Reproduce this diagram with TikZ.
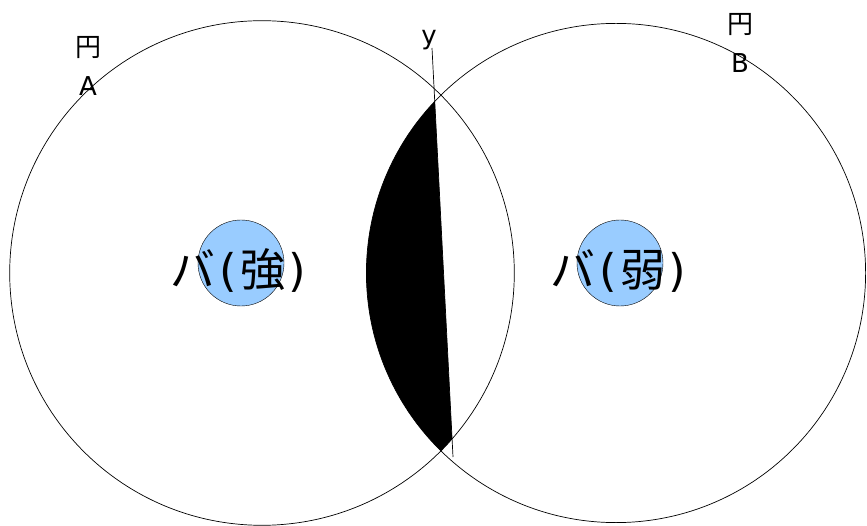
\documentclass[tikz,border=0pt]{standalone}
\usepackage{fontspec}
\setmainfont{DejaVu Sans}
\newfontfamily\jp{Noto Sans CJK JP}
\definecolor{lightblue}{HTML}{99CCFF}

\begin{document}
\begin{tikzpicture}[x=1pt, y=1pt,
    bigcircle/.style={draw, line width=.7pt},
    ball/.style={circle, draw, fill=lightblue, minimum size=86pt, inner sep=0pt},
    balltext/.style={font=\fontsize{45}{45}\selectfont},
    lbl/.style={font=\fontsize{26}{28}\selectfont, align=center, inner sep=0pt}
]
    \useasboundingbox (0,0) rectangle (867,525);
    \coordinate (cA) at (262,252);
    \coordinate (cB) at (616,252);
    \coordinate (ytop) at (432,477);
    \coordinate (ybot) at (453,68);
    % black part between circle B and line y
    \begin{scope}
        \clip (cA) circle (252.3);
        \clip (cB) circle (249.6);
        \fill (ytop) -- (ybot) -- (300,68) -- (300,477) -- cycle;
    \end{scope}
    \draw[bigcircle] (cA) circle (252.3);
    \draw[bigcircle] (cB) circle (249.6);
    \draw[line width=.7pt] (ytop) -- (ybot);
    \node[lbl] (ylabel) at (429,485) {y};
    \node[ball] (ballA) at (241,262) {};
    \node[ball] (ballB) at (620,262) {};
    \node[balltext] (strong) at (238,254) {{\jp バ}\kern4pt(\kern3pt{\jp 強}\kern3pt)};
    \node[balltext] (weak) at (618,254) {{\jp バ}\kern4pt(\kern3pt{\jp 弱}\kern3pt)};
    \node[lbl] (nameA) at (88,459) {{\jp 円}\\[11pt]A};
    \node[lbl] (nameB) at (740,482) {{\jp 円}\\[11pt]B};
\end{tikzpicture}
\end{document}
